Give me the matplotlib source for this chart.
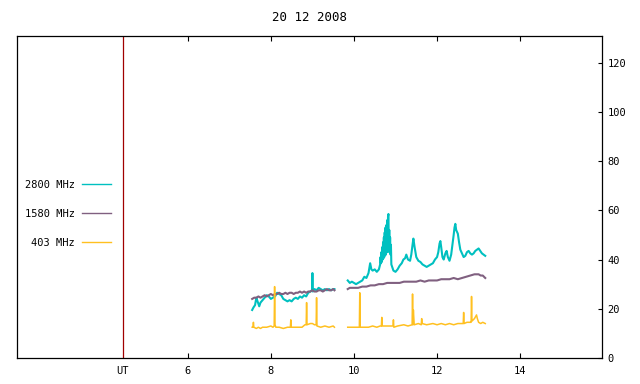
import matplotlib
matplotlib.use('Agg')
import matplotlib.pyplot as plt

# radio flux, 20 Dec 2008 (hours UT, flux)
cyan_am = [(7.55, 19.5), (7.58, 20.5), (7.62, 21.5), (7.65, 24.5), (7.68, 23.0), (7.72, 21.0),
           (7.75, 22.5), (7.8, 23.5), (7.85, 24.5), (7.9, 25.5), (7.95, 25.0), (8.0, 24.0),
           (8.05, 24.5), (8.1, 25.0), (8.15, 26.5), (8.2, 26.0), (8.25, 25.5), (8.3, 24.0),
           (8.35, 23.5), (8.4, 23.0), (8.45, 23.5), (8.5, 23.0), (8.55, 24.0), (8.6, 24.5),
           (8.65, 24.0), (8.7, 25.0), (8.75, 24.5), (8.8, 25.5), (8.85, 25.0), (8.9, 26.5),
           (8.95, 27.0), (8.99, 27.5), (9.0, 34.5), (9.01, 27.0), (9.05, 28.0), (9.1, 27.5),
           (9.15, 28.5), (9.2, 28.0), (9.25, 27.5), (9.3, 28.0), (9.35, 27.5), (9.4, 28.0),
           (9.45, 27.5), (9.5, 28.0), (9.53, 28.0)]
cyan_pm = [(9.85, 31.5), (9.9, 30.5), (9.95, 31), (10.0, 30.5), (10.05, 30), (10.1, 30.5),
           (10.15, 31), (10.2, 31.5), (10.25, 33), (10.3, 32.5), (10.35, 34.5), (10.39, 38.5),
           (10.42, 36), (10.45, 35.5), (10.5, 36), (10.55, 35), (10.6, 36), (10.63, 38),
           (10.64, 41), (10.65, 38.5), (10.66, 43), (10.67, 39), (10.68, 45), (10.69, 40),
           (10.7, 47), (10.71, 40.5), (10.72, 49), (10.73, 41), (10.74, 51), (10.75, 42),
           (10.76, 53), (10.77, 42), (10.78, 54), (10.79, 43), (10.8, 56), (10.81, 43),
           (10.82, 57.5), (10.83, 58.5), (10.84, 44), (10.85, 52), (10.86, 43), (10.87, 49),
           (10.88, 42), (10.89, 46), (10.9, 38), (10.93, 36.5), (10.95, 35.5),
           (11.0, 35), (11.05, 36), (11.1, 37.5), (11.15, 38.5), (11.19, 40), (11.23, 40.5),
           (11.26, 42), (11.3, 40), (11.35, 39.5), (11.38, 42), (11.41, 46), (11.43, 48.5),
           (11.46, 45), (11.5, 41), (11.55, 39.5), (11.6, 39), (11.65, 38), (11.7, 37.5),
           (11.75, 37), (11.8, 37.5), (11.85, 38), (11.9, 38.5), (11.95, 40), (12.0, 41),
           (12.03, 43), (12.06, 46.5), (12.08, 47.5), (12.1, 45), (12.13, 41), (12.16, 40),
           (12.2, 42.5), (12.23, 43.5), (12.26, 41), (12.3, 39.5), (12.34, 42), (12.37, 46),
           (12.4, 50), (12.42, 53), (12.44, 54.5), (12.46, 52), (12.5, 50.5), (12.53, 47),
           (12.56, 44), (12.6, 42.5), (12.64, 41), (12.68, 41.5), (12.72, 43), (12.76, 43.5),
           (12.8, 42.5), (12.84, 42), (12.88, 42.5), (12.92, 43.5), (12.96, 44), (13.0, 44.5),
           (13.04, 43.5), (13.08, 42.5), (13.12, 42), (13.16, 41.5)]

purple_am = [(7.55, 24.0), (7.6, 24.5), (7.65, 24.5), (7.7, 25.0), (7.75, 24.5), (7.8, 25.0),
             (7.85, 25.5), (7.9, 25.0), (7.95, 25.5), (8.0, 26.0), (8.05, 25.5), (8.1, 26.0),
             (8.15, 26.0), (8.2, 26.5), (8.25, 26.0), (8.3, 26.0), (8.35, 26.5), (8.4, 26.0),
             (8.45, 26.5), (8.5, 26.5), (8.55, 26.0), (8.6, 26.5), (8.65, 26.5), (8.7, 27.0),
             (8.75, 26.5), (8.8, 27.0), (8.85, 26.5), (8.9, 27.0), (8.95, 27.0), (9.0, 27.5),
             (9.05, 27.0), (9.1, 27.0), (9.15, 27.5), (9.2, 27.5), (9.25, 27.0), (9.3, 27.5),
             (9.35, 28.0), (9.4, 27.5), (9.45, 27.5), (9.5, 28.0), (9.53, 27.5)]
purple_pm = [(9.85, 28), (9.9, 28.5), (10.0, 28.5), (10.1, 28.5), (10.2, 29), (10.3, 29),
             (10.4, 29.5), (10.5, 29.5), (10.6, 30), (10.7, 30), (10.8, 30.5), (10.9, 30.5),
             (11.0, 30.5), (11.1, 30.5), (11.2, 31), (11.3, 31), (11.4, 31), (11.5, 31),
             (11.6, 31.5), (11.7, 31), (11.8, 31.5), (11.9, 31.5), (12.0, 31.5), (12.1, 32),
             (12.2, 32), (12.3, 32), (12.4, 32.5), (12.5, 32), (12.6, 32.5), (12.7, 33),
             (12.8, 33.5), (12.9, 34), (13.0, 34), (13.05, 33.5), (13.1, 33.5), (13.16, 32.5)]

yellow_am = [(7.55, 12.5), (7.57, 12.5), (7.58, 14.5), (7.59, 12.5), (7.65, 12), (7.7, 12.5),
             (7.75, 12), (7.8, 12.5), (7.9, 12.5), (8.0, 13), (8.05, 12.5), (8.08, 13),
             (8.09, 29), (8.1, 13.5), (8.12, 12.5), (8.2, 12.5), (8.3, 12), (8.4, 12.5),
             (8.47, 12.5), (8.48, 15.5), (8.49, 12.5), (8.55, 12.5), (8.65, 12.5), (8.75, 12.5),
             (8.82, 13.5), (8.85, 13.5), (8.86, 22.5), (8.87, 13.5), (8.95, 14), (9.0, 14),
             (9.05, 13.5), (9.09, 13.5), (9.1, 24.5), (9.11, 13), (9.2, 12.5), (9.3, 13),
             (9.4, 12.5), (9.5, 13), (9.53, 12.5)]
yellow_pm = [(9.85, 12.5), (9.95, 12.5), (10.05, 12.5), (10.13, 12.5), (10.14, 26.5), (10.15, 12.5),
             (10.25, 12.5), (10.35, 12.5), (10.45, 13), (10.55, 12.5), (10.63, 13), (10.66, 13),
             (10.67, 16.5), (10.68, 13), (10.8, 13), (10.94, 13), (10.95, 15.5), (10.96, 12.5),
             (11.05, 13), (11.2, 13.5), (11.3, 13), (11.4, 13.5), (11.41, 26), (11.42, 13.5),
             (11.43, 19.5), (11.45, 13.5), (11.55, 14), (11.62, 13.5), (11.63, 16), (11.64, 14),
             (11.75, 13.5), (11.9, 14), (12.0, 13.5), (12.1, 14), (12.2, 13.5), (12.3, 14),
             (12.4, 13.5), (12.5, 14), (12.6, 14), (12.63, 14), (12.64, 18.5), (12.65, 14),
             (12.72, 14.5), (12.8, 14.5), (12.82, 14.5), (12.83, 25), (12.84, 15), (12.9, 16),
             (12.95, 17.5), (12.97, 16), (13.0, 14.5), (13.05, 14), (13.1, 14.5), (13.16, 14)]

ut_mark = 4.44
xtick_vals = [6, 8, 10, 12, 14]
ytick_vals = [0, 20, 40, 60, 80, 100, 120]

series = [('2800 MHz', '#00c0c0', cyan_am, cyan_pm, 1.5),
          ('1580 MHz', '#806080', purple_am, purple_pm, 1.5),
          ('403 MHz', '#ffc020', yellow_am, yellow_pm, 1.1)]

plt.rcParams['font.family'] = 'DejaVu Sans Mono'
plt.rcParams['font.size'] = 7.5

fig = plt.figure(figsize=(6.4, 3.84), dpi=100)
ax = fig.add_axes([17 / 640, 1 - 358 / 384, (602 - 17) / 640, (358 - 36) / 384])

for label, color, am, pm, w in series:
    t, v = zip(*am)
    ax.plot(t, v, color=color, lw=w, label=label)
    t, v = zip(*pm)
    ax.plot(t, v, color=color, lw=w)

ax.axvline(ut_mark, color='#a00000', lw=0.9)

ax.set_xlim(1.89, 15.97)
ax.set_ylim(0, 130.8)

ax.set_xticks([ut_mark] + xtick_vals)
ax.set_xticklabels(['UT'] + [str(x) for x in xtick_vals])
ax.tick_params(axis='x', direction='in', top=True, bottom=True, length=3.5, pad=6)
ax.get_xticklines()[0].set_visible(False)
ax.get_xticklines()[1].set_visible(False)

ax.yaxis.tick_right()
ax.set_yticks(ytick_vals)
ax.tick_params(axis='y', direction='in', length=3, pad=4)

for s in ax.spines.values():
    s.set_linewidth(0.9)

ax.set_title('20 12 2008', pad=10.5)

leg = ax.legend(loc='upper right', bbox_to_anchor=(111 / 640, 1 - 180 / 384),
                bbox_transform=fig.transFigure, frameon=False, markerfirst=False,
                handlelength=2.8, handletextpad=0.7, labelspacing=1.8,
                borderpad=0, borderaxespad=0)
for h in leg.get_lines():
    h.set_linewidth(1.0)

plt.savefig('out.png')
